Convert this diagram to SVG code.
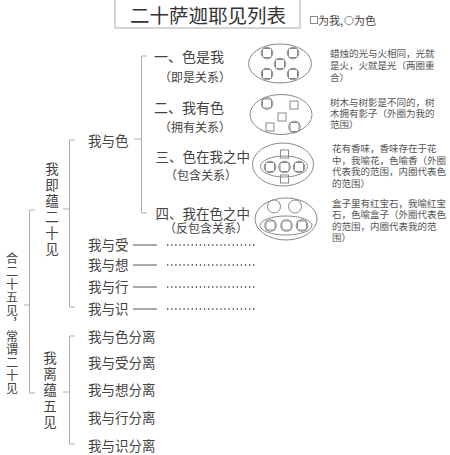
<svg xmlns="http://www.w3.org/2000/svg" width="450" height="455" viewBox="0 0 450 455">
<style>
text{font-family:"Noto Sans CJK SC","Noto Sans",sans-serif;fill:#444}
.t{font-size:13.5px}
.s{font-size:12px}
.p{font-size:9.5px;fill:#555}
.v{writing-mode:vertical-rl;font-size:13.5px;letter-spacing:2.5px}
.m{text-anchor:middle}
.br{fill:none;stroke:#b0b0b0;stroke-width:1}
.sol{stroke:#555;stroke-width:1}
.dot{stroke:#444;stroke-width:1.3;stroke-dasharray:1.3 2.8}
.sh{fill:none;stroke:#8a8a8a;stroke-width:1}
</style>
<rect width="450" height="455" fill="#fff"/>

<g id="title">
<rect x="115" y="-1" width="185" height="29" fill="none" stroke="#aaa" stroke-width="1"/>
<text x="208" y="22.6" class="m" style="font-size:19.5px;fill:#333">二十萨迦耶见列表</text>
</g>
<g id="legend">
<rect x="310.5" y="16.5" width="7" height="7" class="sh"/>
<text x="318" y="25" style="font-size:11px">为我,</text>
<circle cx="349" cy="20.5" r="4.2" class="sh"/>
<text x="354" y="25" style="font-size:11px">为色</text>
</g>

<g id="connectors">
<path class="br" d="M35,210H29.5V393H35M24,305H29.5"/>
<path class="br" d="M75,140H69.5V307H75M63,209H69.5"/>
<path class="br" d="M75,336H69.5V444H75M63,392H69.5"/>
<path class="br" d="M147,56H141.5V213H147M134,139H141.5"/>
<line class="sol" x1="133" y1="245" x2="157" y2="245"/>
<line class="dot" x1="167" y1="245" x2="257" y2="245"/>
<line class="sol" x1="133" y1="265" x2="157" y2="265"/>
<line class="dot" x1="167" y1="265" x2="257" y2="265"/>
<line class="sol" x1="133" y1="287" x2="157" y2="287"/>
<line class="dot" x1="167" y1="287" x2="257" y2="287"/>
<line class="sol" x1="133" y1="309" x2="157" y2="309"/>
<line class="dot" x1="167" y1="309" x2="257" y2="309"/>
</g>

<g id="root">
<text x="12" y="252" class="v" style="font-size:12px;letter-spacing:1px">合二十五见，常谓二十见</text>
</g>

<g id="jiyun">
<text x="52" y="162" class="v">我即蕴二十见</text>
</g>

<g id="liyun">
<text x="50" y="351" class="v">我离蕴五见</text>
</g>

<g id="wo-yu-se"><text x="88" y="146" class="t">我与色</text></g>
<g id="wo-yu-shou"><text x="88" y="250" class="t">我与受</text></g>
<g id="wo-yu-xiang"><text x="88" y="270" class="t">我与想</text></g>
<g id="wo-yu-xing"><text x="88" y="292" class="t">我与行</text></g>
<g id="wo-yu-shi"><text x="88" y="314" class="t">我与识</text></g>

<g id="fenli">
<text x="88" y="342" class="t">我与色分离</text>
<text x="88" y="368" class="t">我与受分离</text>
<text x="88" y="395" class="t">我与想分离</text>
<text x="88" y="423" class="t">我与行分离</text>
<text x="88" y="451" class="t">我与识分离</text>
</g>

<g id="case1">
<text x="154" y="62" class="t" style="font-size:14px">一、色是我</text>
<text x="195" y="81.5" class="s m">（即是关系）</text>
<ellipse cx="280" cy="63.5" rx="31.5" ry="19.5" class="sh" stroke="#999"/>
<circle cx="267" cy="53" r="5.8" class="sh"/><rect x="262.5" y="48.5" width="9" height="9" rx="1" class="sh"/>
<circle cx="293" cy="53" r="5.8" class="sh"/><rect x="288.5" y="48.5" width="9" height="9" rx="1" class="sh"/>
<circle cx="280" cy="64" r="5.8" class="sh"/><rect x="275.5" y="59.5" width="9" height="9" rx="1" class="sh"/>
<circle cx="267" cy="74" r="5.8" class="sh"/><rect x="262.5" y="69.5" width="9" height="9" rx="1" class="sh"/>
<circle cx="293" cy="74" r="5.8" class="sh"/><rect x="288.5" y="69.5" width="9" height="9" rx="1" class="sh"/>
<text class="p"><tspan x="330" y="56.5">蜡烛的光与火相同，光就</tspan><tspan x="330" y="68.5">是火，火就是光（两圈重</tspan><tspan x="330" y="80.5">合）</tspan></text>
</g>

<g id="case2">
<text x="154" y="113" class="t" style="font-size:14px">二、我有色</text>
<text x="195" y="131.5" class="s m">（拥有关系）</text>
<ellipse cx="281" cy="114.5" rx="31" ry="20" class="sh" stroke="#999"/>
<circle cx="267" cy="103.5" r="5.8" class="sh"/><rect x="262.5" y="99" width="9" height="9" rx="1" class="sh"/>
<rect x="290" y="101" width="8" height="8" class="sh"/>
<rect x="278" y="113" width="8" height="8" class="sh"/>
<rect x="266" y="123" width="8" height="8" class="sh"/>
<circle cx="294.5" cy="127" r="5.8" class="sh"/><rect x="290" y="122.5" width="9" height="9" rx="1" class="sh"/>
<text class="p"><tspan x="330" y="105.5">树木与树影是不同的，树</tspan><tspan x="330" y="116.5">木拥有影子（外圈为我的</tspan><tspan x="330" y="127.5">范围）</tspan></text>
</g>

<g id="case3">
<text x="155.5" y="162" class="t">三、色在我之中</text>
<text x="201" y="179.5" class="s m">（包含关系）</text>
<ellipse cx="283" cy="164.5" rx="30.5" ry="21.5" class="sh" stroke="#999"/>
<ellipse cx="284" cy="166.5" rx="23.5" ry="10.5" class="sh" stroke="#999"/>
<rect x="280.5" y="150" width="8" height="8" class="sh"/>
<rect x="280.5" y="175" width="8" height="8" class="sh"/>
<circle cx="270" cy="167" r="5.8" class="sh"/><rect x="265.5" y="162.5" width="9" height="9" rx="1" class="sh"/>
<circle cx="284.5" cy="167" r="5.8" class="sh"/><rect x="280" y="162.5" width="9" height="9" rx="1" class="sh"/>
<circle cx="299" cy="167" r="5.8" class="sh"/><rect x="294.5" y="162.5" width="9" height="9" rx="1" class="sh"/>
<text class="p"><tspan x="332" y="151.5">花有香味，香味存在于花</tspan><tspan x="332" y="163.5">中，我喻花，色喻香（外圈</tspan><tspan x="332" y="175">代表我的范围，内圈代表色</tspan><tspan x="332" y="186.5">的范围）</tspan></text>
</g>

<g id="case4">
<text x="155.5" y="219" class="t">四、我在色之中</text>
<text x="206" y="233" class="s m">（反包含关系）</text>
<ellipse cx="286" cy="219" rx="31" ry="21" class="sh" stroke="#999"/>
<circle cx="274" cy="206.5" r="6.5" class="sh"/>
<circle cx="295" cy="206.5" r="6.5" class="sh"/>
<ellipse cx="286" cy="225.5" rx="26" ry="9.5" class="sh" stroke="#999"/>
<circle cx="270.5" cy="225.5" r="5.8" class="sh"/><rect x="266" y="221" width="9" height="9" rx="1" class="sh"/>
<circle cx="286.5" cy="225.5" r="5.8" class="sh"/><rect x="282" y="221" width="9" height="9" rx="1" class="sh"/>
<circle cx="302" cy="225.5" r="5.8" class="sh"/><rect x="297.5" y="221" width="9" height="9" rx="1" class="sh"/>
<text class="p"><tspan x="332" y="206.5">盒子里有红宝石，我喻红宝</tspan><tspan x="332" y="218">石，色喻盒子（外圈代表色</tspan><tspan x="332" y="229.5">的范围，内圈代表我的范</tspan><tspan x="332" y="241">围）</tspan></text>
</g>
</svg>
